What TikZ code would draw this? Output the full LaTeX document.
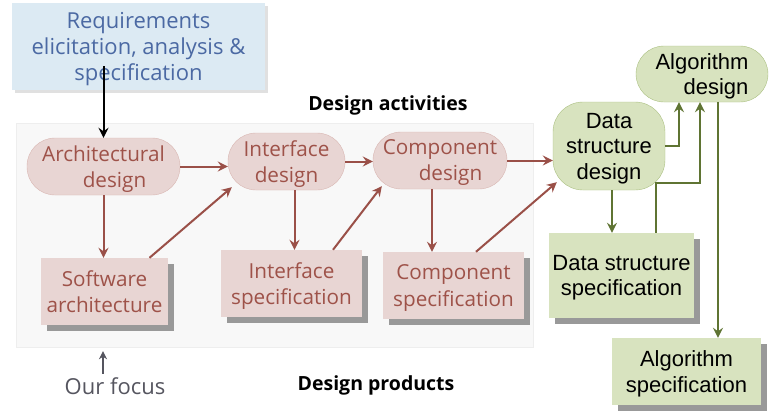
\documentclass[tikz,border=0pt]{standalone}
\usepackage{fontspec}
\setmainfont{Open Sans}
\newfontfamily\greenfont{Liberation Sans}
\usepackage{xcolor}
\usepackage{tikz}
\usetikzlibrary{arrows.meta, positioning, calc, shadows}
\definecolor{reqfill}{HTML}{DCEAF3}
\definecolor{reqtext}{HTML}{4B69A3}
\definecolor{panelfill}{HTML}{F8F8F8}
\definecolor{panelline}{HTML}{EEEEEE}
\definecolor{pinkfill}{HTML}{E8D5D3}
\definecolor{pinkline}{HTML}{D9B7B3}
\definecolor{pinktext}{HTML}{9E5249}
\definecolor{pinkwire}{HTML}{9A5048}
\definecolor{greenfill}{HTML}{D8E3BF}
\definecolor{greenline}{HTML}{ABC082}
\definecolor{greenwire}{HTML}{5F7433}
\definecolor{focustext}{HTML}{55555F}
\tikzset{
    reqbox/.style={
        rectangle,
        fill=reqfill,
        text=reqtext,
        align=center,
        text depth=0pt,
        font=\fontsize{22}{26}\selectfont,
        drop shadow={shadow xshift=3pt, shadow yshift=-3pt, fill=black!12, opacity=1}
    },
    activity/.style={
        rectangle,
        rounded corners=28pt,
        draw=pinkline,
        fill=pinkfill,
        text=pinktext,
        align=center,
        text depth=-3pt,
        font=\fontsize{20.7}{26}\selectfont
    },
    product/.style={
        rectangle,
        fill=pinkfill,
        text=pinktext,
        align=center,
        text depth=-1pt,
        font=\fontsize{20.7}{26}\selectfont,
        drop shadow={shadow xshift=6pt, shadow yshift=-6pt, fill=black!40, opacity=1}
    },
    gactivity/.style={
        rectangle,
        rounded corners=28pt,
        draw=greenline,
        fill=greenfill,
        text=black,
        align=center,
        text depth=-4pt,
        font=\greenfont\fontsize{22}{25.5}\selectfont
    },
    gproduct/.style={
        rectangle,
        fill=greenfill,
        text=black,
        align=center,
        text depth=-5pt,
        font=\greenfont\fontsize{22}{25.5}\selectfont,
        drop shadow={shadow xshift=6pt, shadow yshift=-6pt, fill=black!40, opacity=1}
    },
    heading/.style={
        font=\bfseries\fontsize{19.5}{22}\selectfont,
        text=black
    },
    wire/.style={
        draw=pinkwire,
        line width=2pt,
        -{Stealth[length=10pt, width=10pt, inset=3.5pt]}
    },
    gwire/.style={
        draw=greenwire,
        line width=2.4pt,
        -{Stealth[length=10pt, width=10pt, inset=3.5pt]}
    },
    reqwire/.style={
        draw=black,
        line width=2pt,
        -{Stealth[length=10pt, width=10pt, inset=3.5pt]}
    },
    focuswire/.style={
        draw=focustext,
        line width=1.5pt,
        -{Stealth[length=8pt, width=8pt, inset=2.5pt]}
    }
}

\begin{document}
\begin{tikzpicture}[x=1pt, y=-1pt]
\useasboundingbox (0,0) rectangle (769,413);

% Requirements
\node[reqbox, minimum width=253pt, minimum height=87pt] (req) at (138.5,46.5)
    {Requirements\\elicitation, analysis \&\\specification};

% Design panel
\node[rectangle, draw=panelline, fill=panelfill, minimum width=517pt, minimum height=224pt] (panel) at (274.5,235) {};
\node[heading] (acttitle) at (388,105) {Design activities};
\node[heading] (prodtitle) at (376,385) {Design products};

% Design activities
\node[activity, minimum width=153pt, minimum height=57pt] (arch) at (103.5,166.5) {Architectural\\\hspace{22pt}design};
\node[activity, minimum width=117pt, minimum height=57pt] (iface) at (286.5,161.5) {Interface\\design};
\node[activity, minimum width=134pt, minimum height=57pt] (comp) at (440,160.5) {Component\\\hspace{21pt}design};

% Design products
\node[product, minimum width=127pt, minimum height=67pt] (swarch) at (104.5,291.5) {Software\\architecture};
\node[product, minimum width=141pt, minimum height=67pt] (ifspec) at (291.5,283.5) {Interface\\specification};
\node[product, minimum width=141pt, minimum height=67pt] (compspec) at (453.5,285.5) {Component\\specification};

% Green part
\node[gactivity, minimum width=112pt, minimum height=88pt, rounded corners=30pt] (dsd) at (609,146) {Data\\structure\\design};
\node[gactivity, minimum width=132pt, minimum height=56pt, align=right] (algd) at (702,74) {Algorithm\\design};
\node[gproduct, minimum width=143pt, minimum height=85pt] (dsspec) at (621.5,275.5) {Data structure\\specification};
\node[gproduct, minimum width=149pt, minimum height=67pt] (algspec) at (686.5,371.5) {Algorithm\\specification};

% Our focus
\node[text=focustext, font=\fontsize{22}{24}\selectfont] (focus) at (115,386) {Our focus};
\draw[focuswire, shorten >=4pt] ([xshift=-12pt]focus.north) -- ([xshift=-12pt]focus.north |- panel.south);

% Requirements to architecture
\draw[reqwire] ($(req.south -| arch.north)+(0,-24)$) -- (arch.north);

% Pink wires
\draw[wire] (arch.east) -- (arch.east -| iface.west);
\draw[wire] (arch.south) -- (arch.south |- swarch.north);
\draw[wire] ($(swarch.north)+(45,0)$) -- ($(iface.south west)+(4,-3)$);
\draw[wire] (iface.east) -- (iface.east -| comp.west);
\draw[wire] ([xshift=8pt]iface.south) -- ([xshift=8pt]iface.south |- ifspec.north);
\draw[wire] ($(ifspec.north)+(41.5,0)$) -- ($(comp.south west)+(9,-3)$);
\draw[wire] (comp.east) -- (comp.east -| dsd.west);
\draw[wire] ([xshift=-8pt]comp.south) -- ([xshift=-8pt]comp.south |- compspec.north);
\draw[wire] ($(compspec.north)+(22.5,0)$) -- ($(dsd.south west)+(4,-8)$);

% Green wires
\draw[gwire] ([xshift=3pt]dsd.south) -- ([xshift=3pt]dsd.south |- dsspec.north);
\draw[gwire] (dsd.east) -| ([xshift=-23pt]algd.south);
\draw[gwire] ([xshift=34.5pt]dsspec.north) -- ++(0,-50) -| ([xshift=-2pt]algd.south);
\draw[gwire] ([xshift=16pt]algd.south) -- ([xshift=16pt]algd.south |- algspec.north);

\end{tikzpicture}
\end{document}
